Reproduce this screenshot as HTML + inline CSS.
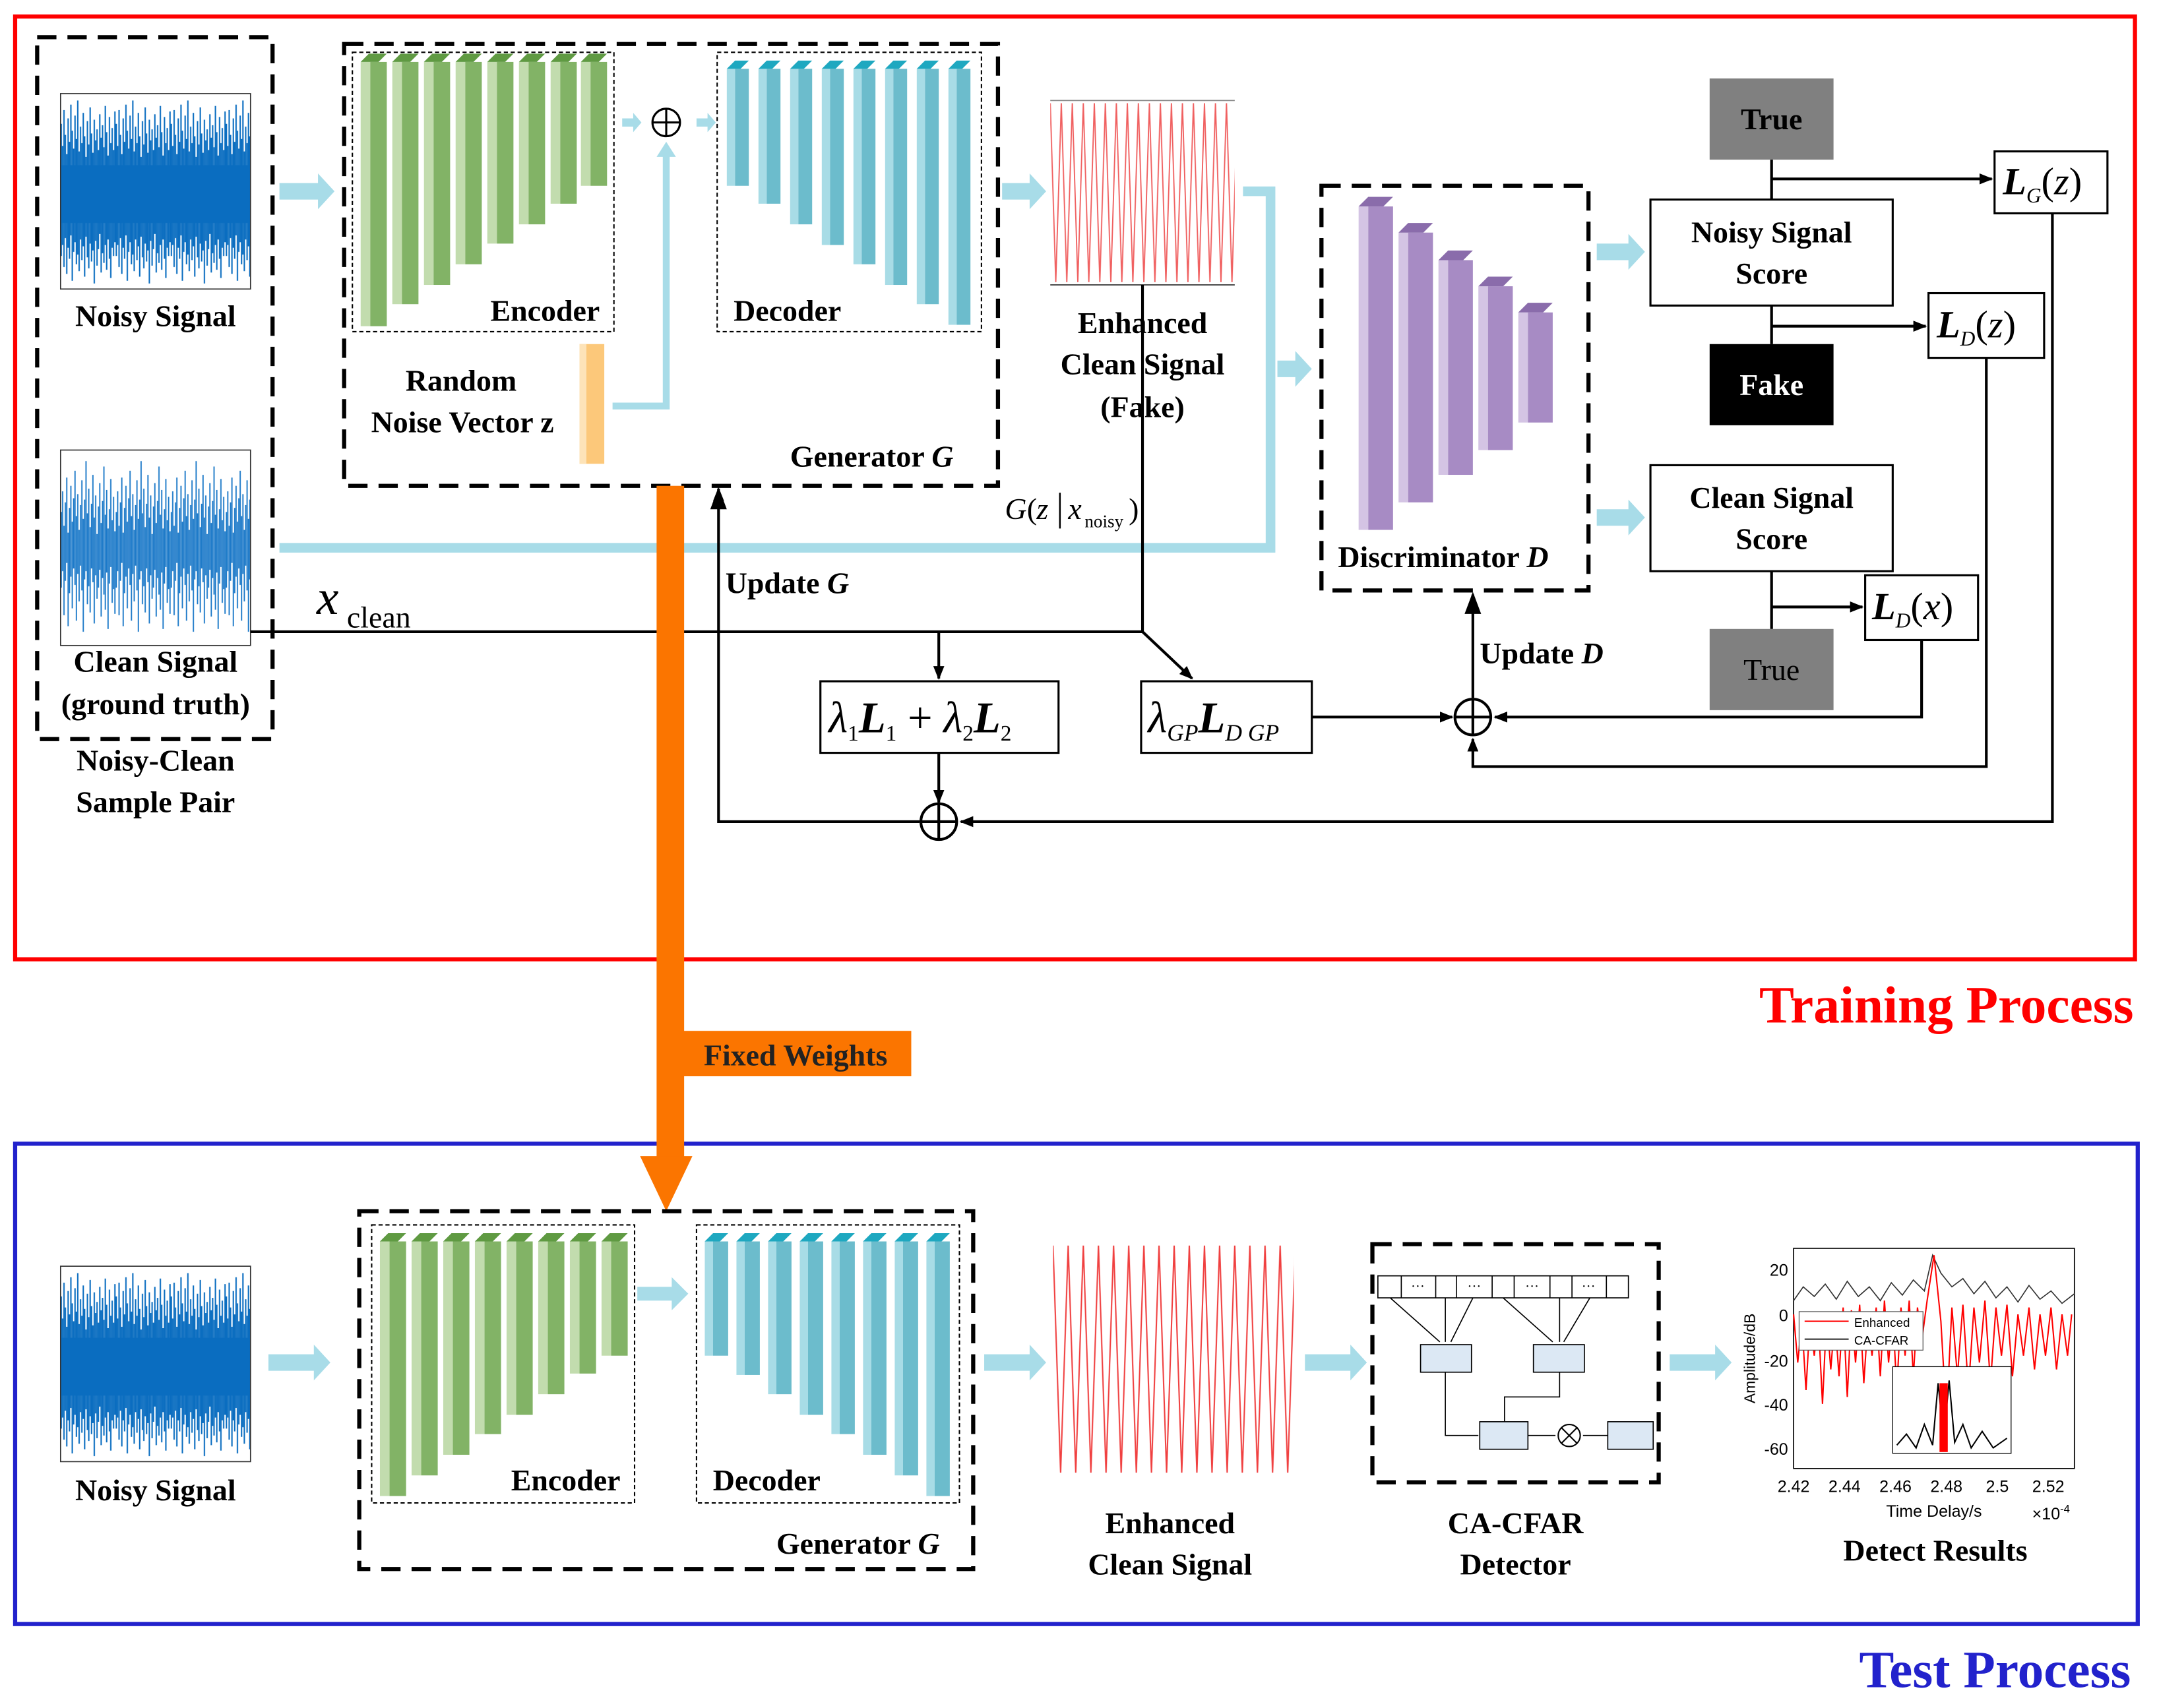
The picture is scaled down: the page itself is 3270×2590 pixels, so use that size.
<!DOCTYPE html>
<html><head><meta charset="utf-8"><style>
html,body{margin:0;padding:0;background:#fff;}
svg{display:block;}
text{font-family:"Liberation Serif",serif;}
.b{font-weight:bold;font-size:22px;}
.s{font-family:"Liberation Sans",sans-serif;}
</style></head><body>
<svg width="3270" height="2590" viewBox="0 0 1567 1241" preserveAspectRatio="none" xmlns="http://www.w3.org/2000/svg">
<defs>
<pattern id="noise" width="40" height="142" patternUnits="userSpaceOnUse" x="44" y="68">
<rect width="40" height="142" fill="#fff"/>
<g stroke="#0a6dc0" stroke-width="1">
<line x1="0.5" y1="22" x2="0.5" y2="118"/><line x1="1.5" y1="38" x2="1.5" y2="110"/><line x1="2.5" y1="12" x2="2.5" y2="126"/><line x1="3.5" y1="30" x2="3.5" y2="105"/>
<line x1="4.5" y1="44" x2="4.5" y2="131"/><line x1="5.5" y1="18" x2="5.5" y2="112"/><line x1="6.5" y1="35" x2="6.5" y2="120"/><line x1="7.5" y1="8" x2="7.5" y2="103"/>
<line x1="8.5" y1="27" x2="8.5" y2="136"/><line x1="9.5" y1="40" x2="9.5" y2="115"/><line x1="10.5" y1="16" x2="10.5" y2="108"/><line x1="11.5" y1="33" x2="11.5" y2="124"/>
<line x1="12.5" y1="5" x2="12.5" y2="117"/><line x1="13.5" y1="42" x2="13.5" y2="129"/><line x1="14.5" y1="24" x2="14.5" y2="106"/><line x1="15.5" y1="36" x2="15.5" y2="121"/>
<line x1="16.5" y1="14" x2="16.5" y2="111"/><line x1="17.5" y1="31" x2="17.5" y2="133"/><line x1="18.5" y1="46" x2="18.5" y2="104"/><line x1="19.5" y1="20" x2="19.5" y2="119"/>
<line x1="20.5" y1="37" x2="20.5" y2="127"/><line x1="21.5" y1="10" x2="21.5" y2="109"/><line x1="22.5" y1="29" x2="22.5" y2="122"/><line x1="23.5" y1="43" x2="23.5" y2="114"/>
<line x1="24.5" y1="19" x2="24.5" y2="138"/><line x1="25.5" y1="34" x2="25.5" y2="107"/><line x1="26.5" y1="26" x2="26.5" y2="125"/><line x1="27.5" y1="41" x2="27.5" y2="113"/>
<line x1="28.5" y1="15" x2="28.5" y2="102"/><line x1="29.5" y1="32" x2="29.5" y2="130"/><line x1="30.5" y1="23" x2="30.5" y2="116"/><line x1="31.5" y1="39" x2="31.5" y2="123"/>
<line x1="32.5" y1="9" x2="32.5" y2="110"/><line x1="33.5" y1="28" x2="33.5" y2="128"/><line x1="34.5" y1="45" x2="34.5" y2="106"/><line x1="35.5" y1="17" x2="35.5" y2="120"/>
<line x1="36.5" y1="36" x2="36.5" y2="134"/><line x1="37.5" y1="25" x2="37.5" y2="112"/><line x1="38.5" y1="41" x2="38.5" y2="118"/><line x1="39.5" y1="13" x2="39.5" y2="108"/>
</g>
<rect x="0" y="52" width="40" height="42" fill="#0a6dc0"/>
</pattern>
<pattern id="noiseT" href="#noise" x="44" y="920"/>
<pattern id="noise2" width="40" height="142" patternUnits="userSpaceOnUse" x="44" y="327">
<rect width="40" height="142" fill="#fff"/>
<g stroke="#1a78c8" stroke-width="0.9">
<line x1="0.5" y1="45" x2="0.5" y2="100"/><line x1="1.5" y1="30" x2="1.5" y2="88"/><line x1="2.5" y1="55" x2="2.5" y2="120"/><line x1="3.5" y1="38" x2="3.5" y2="95"/>
<line x1="4.5" y1="20" x2="4.5" y2="82"/><line x1="5.5" y1="60" x2="5.5" y2="128"/><line x1="6.5" y1="42" x2="6.5" y2="104"/><line x1="7.5" y1="26" x2="7.5" y2="92"/>
<line x1="8.5" y1="52" x2="8.5" y2="115"/><line x1="9.5" y1="35" x2="9.5" y2="86"/><line x1="10.5" y1="15" x2="10.5" y2="98"/><line x1="11.5" y1="48" x2="11.5" y2="124"/>
<line x1="12.5" y1="32" x2="12.5" y2="90"/><line x1="13.5" y1="58" x2="13.5" y2="110"/><line x1="14.5" y1="40" x2="14.5" y2="84"/><line x1="15.5" y1="22" x2="15.5" y2="102"/>
<line x1="16.5" y1="50" x2="16.5" y2="132"/><line x1="17.5" y1="36" x2="17.5" y2="94"/><line x1="18.5" y1="8" x2="18.5" y2="88"/><line x1="19.5" y1="46" x2="19.5" y2="112"/>
<line x1="20.5" y1="28" x2="20.5" y2="99"/><line x1="21.5" y1="56" x2="21.5" y2="118"/><line x1="22.5" y1="39" x2="22.5" y2="86"/><line x1="23.5" y1="18" x2="23.5" y2="96"/>
<line x1="24.5" y1="49" x2="24.5" y2="126"/><line x1="25.5" y1="33" x2="25.5" y2="91"/><line x1="26.5" y1="61" x2="26.5" y2="108"/><line x1="27.5" y1="41" x2="27.5" y2="100"/>
<line x1="28.5" y1="24" x2="28.5" y2="87"/><line x1="29.5" y1="53" x2="29.5" y2="121"/><line x1="30.5" y1="37" x2="30.5" y2="93"/><line x1="31.5" y1="12" x2="31.5" y2="105"/>
<line x1="32.5" y1="47" x2="32.5" y2="116"/><line x1="33.5" y1="29" x2="33.5" y2="89"/><line x1="34.5" y1="57" x2="34.5" y2="130"/><line x1="35.5" y1="43" x2="35.5" y2="97"/>
<line x1="36.5" y1="21" x2="36.5" y2="85"/><line x1="37.5" y1="51" x2="37.5" y2="111"/><line x1="38.5" y1="34" x2="38.5" y2="101"/><line x1="39.5" y1="59" x2="39.5" y2="119"/>
</g>
</pattern>
<pattern id="sine1" width="8" height="134" patternUnits="userSpaceOnUse" x="763" y="73">
<path d="M0,2 L4,132 L8,2" fill="none" stroke="#f06060" stroke-width="0.9"/>
</pattern>
<pattern id="sine2" width="11" height="175" patternUnits="userSpaceOnUse" x="765" y="900">
<path d="M0,5 L5.5,170 L11,5" fill="none" stroke="#f04040" stroke-width="1"/>
</pattern>
<marker id="ah" markerWidth="10" markerHeight="8" refX="9" refY="4" orient="auto" markerUnits="userSpaceOnUse"><path d="M0,0 L10,4 L0,8 z" fill="#000"/></marker>
</defs>

<rect width="1567" height="1241" fill="#fff"/>
<rect x="11" y="12" width="1540" height="685" fill="none" stroke="#f00" stroke-width="3"/>
<rect x="11" y="831" width="1542" height="349" fill="none" stroke="#22c" stroke-width="3"/>
<text x="1550" y="743" text-anchor="end" font-size="38" font-weight="bold" fill="#f00">Training Process</text>
<text x="1548" y="1226" text-anchor="end" font-size="38" font-weight="bold" fill="#22c">Test Process</text>

<rect x="27" y="27" width="171" height="510" fill="none" stroke="#000" stroke-width="3" stroke-dasharray="14,8"/>
<rect x="44" y="68" width="138" height="142" fill="url(#noise)" stroke="#333" stroke-width="0.8"/>
<rect x="44" y="327" width="138" height="142" fill="url(#noise2)" stroke="#333" stroke-width="0.8"/>
<text class="b" x="113" y="237" text-anchor="middle">Noisy Signal</text>
<text class="b" x="113" y="488" text-anchor="middle">Clean Signal</text>
<text class="b" x="113" y="519" text-anchor="middle">(ground truth)</text>
<text class="b" x="113" y="560" text-anchor="middle">Noisy-Clean</text>
<text class="b" x="113" y="590" text-anchor="middle">Sample Pair</text>

<g fill="#a8dce8">
<path d="M203,133 h28 v-7 l12,13 -12,13 v-7 h-28z"/>
<path d="M728,133 h20 v-7 l12,13 -12,13 v-7 h-20z"/>
<path d="M1160,177 h23 v-7 l12,13 -12,13 v-7 h-23z"/>
<path d="M1160,370 h23 v-7 l12,13 -12,13 v-7 h-23z"/>
<path d="M928,262 h13 v-7 l12,13 -12,13 v-7 h-13z"/>
<path d="M195,984 h33 v-7 l12,13 -12,13 v-7 h-33z"/>
<path d="M715,984 h33 v-7 l12,13 -12,13 v-7 h-33z"/>
<path d="M948,984 h33 v-7 l12,13 -12,13 v-7 h-33z"/>
<path d="M1213,984 h33 v-7 l12,13 -12,13 v-7 h-33z"/>
<path d="M463,935 h25 v-7 l12,12 -12,12 v-7 h-25z"/>
<path d="M452,86 h8 v-4 l6,7 -6,7 v-4 h-8z"/>
<path d="M506,86 h8 v-4 l6,7 -6,7 v-4 h-8z"/>
</g>
<polyline points="903,139 923,139 923,398 203,398" fill="none" stroke="#a8dce8" stroke-width="7"/>
<polyline points="445,295 484,295 484,112" fill="none" stroke="#a8dce8" stroke-width="5"/>
<path d="M477,114 l7,-11 7,11z" fill="#a8dce8"/>

<rect x="250" y="32" width="475" height="321" fill="none" stroke="#000" stroke-width="3" stroke-dasharray="14,8"/>
<rect x="256" y="38" width="190" height="203" fill="none" stroke="#000" stroke-width="1" stroke-dasharray="3,2"/>
<rect x="521" y="38" width="192" height="203" fill="none" stroke="#000" stroke-width="1" stroke-dasharray="3,2"/>
<g>
<rect x="262" y="45" width="7" height="192" fill="#c2dcae"/><rect x="269" y="45" width="12" height="192" fill="#82b366"/><path d="M262,45 l6,-6 h13 l-6,6z" fill="#5f9a42"/>
<rect x="285" y="45" width="7" height="176" fill="#c2dcae"/><rect x="292" y="45" width="12" height="176" fill="#82b366"/><path d="M285,45 l6,-6 h13 l-6,6z" fill="#5f9a42"/>
<rect x="308" y="45" width="7" height="162" fill="#c2dcae"/><rect x="315" y="45" width="12" height="162" fill="#82b366"/><path d="M308,45 l6,-6 h13 l-6,6z" fill="#5f9a42"/>
<rect x="331" y="45" width="7" height="147" fill="#c2dcae"/><rect x="338" y="45" width="12" height="147" fill="#82b366"/><path d="M331,45 l6,-6 h13 l-6,6z" fill="#5f9a42"/>
<rect x="354" y="45" width="7" height="132" fill="#c2dcae"/><rect x="361" y="45" width="12" height="132" fill="#82b366"/><path d="M354,45 l6,-6 h13 l-6,6z" fill="#5f9a42"/>
<rect x="377" y="45" width="7" height="118" fill="#c2dcae"/><rect x="384" y="45" width="12" height="118" fill="#82b366"/><path d="M377,45 l6,-6 h13 l-6,6z" fill="#5f9a42"/>
<rect x="400" y="45" width="7" height="103" fill="#c2dcae"/><rect x="407" y="45" width="12" height="103" fill="#82b366"/><path d="M400,45 l6,-6 h13 l-6,6z" fill="#5f9a42"/>
<rect x="422" y="45" width="7" height="90" fill="#c2dcae"/><rect x="429" y="45" width="12" height="90" fill="#82b366"/><path d="M422,45 l6,-6 h13 l-6,6z" fill="#5f9a42"/>
</g>
<g>
<rect x="528" y="50" width="6" height="85" fill="#a8dce6"/><rect x="534" y="50" width="10" height="85" fill="#6cbccc"/><path d="M528,50 l6,-6 h10 l-6,6z" fill="#1ea8c0"/>
<rect x="551" y="50" width="6" height="98" fill="#a8dce6"/><rect x="557" y="50" width="10" height="98" fill="#6cbccc"/><path d="M551,50 l6,-6 h10 l-6,6z" fill="#1ea8c0"/>
<rect x="574" y="50" width="6" height="113" fill="#a8dce6"/><rect x="580" y="50" width="10" height="113" fill="#6cbccc"/><path d="M574,50 l6,-6 h10 l-6,6z" fill="#1ea8c0"/>
<rect x="597" y="50" width="6" height="128" fill="#a8dce6"/><rect x="603" y="50" width="10" height="128" fill="#6cbccc"/><path d="M597,50 l6,-6 h10 l-6,6z" fill="#1ea8c0"/>
<rect x="620" y="50" width="6" height="142" fill="#a8dce6"/><rect x="626" y="50" width="10" height="142" fill="#6cbccc"/><path d="M620,50 l6,-6 h10 l-6,6z" fill="#1ea8c0"/>
<rect x="643" y="50" width="6" height="157" fill="#a8dce6"/><rect x="649" y="50" width="10" height="157" fill="#6cbccc"/><path d="M643,50 l6,-6 h10 l-6,6z" fill="#1ea8c0"/>
<rect x="666" y="50" width="6" height="171" fill="#a8dce6"/><rect x="672" y="50" width="10" height="171" fill="#6cbccc"/><path d="M666,50 l6,-6 h10 l-6,6z" fill="#1ea8c0"/>
<rect x="689" y="50" width="6" height="186" fill="#a8dce6"/><rect x="695" y="50" width="10" height="186" fill="#6cbccc"/><path d="M689,50 l6,-6 h10 l-6,6z" fill="#1ea8c0"/>
</g>
<circle cx="484" cy="89" r="10" fill="#fff" stroke="#000" stroke-width="1.5"/><path d="M474,89 h20 M484,79 v20" stroke="#000" stroke-width="1.5"/>
<rect x="421" y="250" width="18" height="87" fill="#fcc87a"/><rect x="421" y="250" width="5" height="87" fill="#fde3b8"/>
<text class="b" x="396" y="233" text-anchor="middle">Encoder</text>
<text class="b" x="572" y="233" text-anchor="middle">Decoder</text>
<text class="b" x="335" y="284" text-anchor="middle">Random</text>
<text class="b" x="336" y="314" text-anchor="middle">Noise Vector z</text>
<text class="b" x="574" y="339">Generator <tspan font-style="italic">G</tspan></text>

<rect x="763" y="73" width="134" height="134" fill="url(#sine1)"/>
<line x1="763" y1="73" x2="897" y2="73" stroke="#888" stroke-width="0.8"/><line x1="763" y1="207" x2="897" y2="207" stroke="#333" stroke-width="0.8"/>
<text class="b" x="830" y="242" text-anchor="middle">Enhanced</text>
<text class="b" x="830" y="272" text-anchor="middle">Clean Signal</text>
<text class="b" x="830" y="303" text-anchor="middle">(Fake)</text>

<rect x="960" y="135" width="194" height="294" fill="none" stroke="#000" stroke-width="3" stroke-dasharray="14,8"/>
<g>
<rect x="987" y="150" width="7" height="235" fill="#d4c4e4"/><rect x="994" y="150" width="18" height="235" fill="#a78bc4"/><path d="M987,150 l7,-7 h18 l-7,7z" fill="#8a6cab"/>
<rect x="1016" y="169" width="7" height="196" fill="#d4c4e4"/><rect x="1023" y="169" width="18" height="196" fill="#a78bc4"/><path d="M1016,169 l7,-7 h18 l-7,7z" fill="#8a6cab"/>
<rect x="1045" y="189" width="7" height="156" fill="#d4c4e4"/><rect x="1052" y="189" width="18" height="156" fill="#a78bc4"/><path d="M1045,189 l7,-7 h18 l-7,7z" fill="#8a6cab"/>
<rect x="1074" y="208" width="7" height="119" fill="#d4c4e4"/><rect x="1081" y="208" width="18" height="119" fill="#a78bc4"/><path d="M1074,208 l7,-7 h18 l-7,7z" fill="#8a6cab"/>
<rect x="1103" y="227" width="7" height="80" fill="#d4c4e4"/><rect x="1110" y="227" width="18" height="80" fill="#a78bc4"/><path d="M1103,227 l7,-7 h18 l-7,7z" fill="#8a6cab"/>
</g>
<text class="b" x="972" y="412">Discriminator <tspan font-style="italic">D</tspan></text>

<rect x="1242" y="57" width="90" height="59" fill="#808080"/><text class="b" x="1287" y="94" text-anchor="middle">True</text>
<rect x="1199" y="145" width="176" height="77" fill="#fff" stroke="#000" stroke-width="1.5"/>
<text class="b" x="1287" y="176" text-anchor="middle">Noisy Signal</text><text class="b" x="1287" y="206" text-anchor="middle">Score</text>
<rect x="1242" y="250" width="90" height="59" fill="#000"/><text class="b" x="1287" y="287" text-anchor="middle" fill="#fff">Fake</text>
<rect x="1199" y="338" width="176" height="77" fill="#fff" stroke="#000" stroke-width="1.5"/>
<text class="b" x="1287" y="369" text-anchor="middle">Clean Signal</text><text class="b" x="1287" y="399" text-anchor="middle">Score</text>
<rect x="1242" y="457" width="90" height="59" fill="#808080"/><text x="1287" y="494" text-anchor="middle" font-size="22">True</text>

<rect x="1449" y="110" width="82" height="45" fill="#fff" stroke="#000" stroke-width="1.5"/>
<text x="1455" y="141" font-size="28" font-style="italic" font-weight="bold">L<tspan font-size="15" dy="6" font-weight="normal">G</tspan><tspan dy="-6" font-weight="normal" font-style="normal">(</tspan><tspan font-weight="normal">z</tspan><tspan font-weight="normal" font-style="normal">)</tspan></text>
<rect x="1401" y="213" width="84" height="47" fill="#fff" stroke="#000" stroke-width="1.5"/>
<text x="1407" y="245" font-size="28" font-style="italic" font-weight="bold">L<tspan font-size="15" dy="6" font-weight="normal">D</tspan><tspan dy="-6" font-weight="normal" font-style="normal">(</tspan><tspan font-weight="normal">z</tspan><tspan font-weight="normal" font-style="normal">)</tspan></text>
<rect x="1355" y="418" width="82" height="47" fill="#fff" stroke="#000" stroke-width="1.5"/>
<text x="1360" y="450" font-size="28" font-style="italic" font-weight="bold">L<tspan font-size="15" dy="6" font-weight="normal">D</tspan><tspan dy="-6" font-weight="normal" font-style="normal">(</tspan><tspan font-weight="normal">x</tspan><tspan font-weight="normal" font-style="normal">)</tspan></text>

<g stroke="#000" stroke-width="2" fill="none">
<line x1="1287" y1="116" x2="1287" y2="145"/><line x1="1287" y1="130" x2="1447" y2="130" marker-end="url(#ah)"/>
<line x1="1287" y1="222" x2="1287" y2="250"/><line x1="1287" y1="237" x2="1399" y2="237" marker-end="url(#ah)"/>
<line x1="1287" y1="415" x2="1287" y2="457"/><line x1="1287" y1="441" x2="1353" y2="441" marker-end="url(#ah)"/>
<line x1="182" y1="459" x2="830" y2="459"/>
<line x1="830" y1="207" x2="830" y2="459"/>
<line x1="830" y1="459" x2="866" y2="493" marker-end="url(#ah)"/>
<line x1="682" y1="459" x2="682" y2="493" marker-end="url(#ah)"/>
<line x1="682" y1="547" x2="682" y2="583" marker-end="url(#ah)"/>
<line x1="953" y1="521" x2="1055" y2="521" marker-end="url(#ah)"/>
<polyline points="1396,465 1396,521 1086,521" marker-end="url(#ah)"/>
<polyline points="1443,260 1443,557 1070,557 1070,537" marker-end="url(#ah)"/>
<polyline points="1491,155 1491,597 698,597" marker-end="url(#ah)"/>
<polyline points="668,597 522,597 522,355" marker-end="url(#ah)"/>
<line x1="1070" y1="507" x2="1070" y2="432" marker-end="url(#ah)"/>
</g>
<path d="M1064,446 l6,-16 6,16z" fill="#000"/>
<path d="M516,370 l6,-16 6,16z" fill="#000"/>
<circle cx="1070" cy="521" r="13" fill="#fff" stroke="#000" stroke-width="2"/><path d="M1057,521 h26 M1070,508 v26" stroke="#000" stroke-width="2"/>
<circle cx="682" cy="597" r="13" fill="#fff" stroke="#000" stroke-width="2"/><path d="M669,597 h26 M682,584 v26" stroke="#000" stroke-width="2"/>

<text x="230" y="446" font-size="36" font-style="italic">x</text><text x="252" y="456" font-size="22">clean</text>
<text x="730" y="377" font-size="22" font-style="italic">G</text><text x="746" y="377" font-size="22">(</text><text x="753" y="377" font-size="22" font-style="italic">z</text>
<line x1="770" y1="358" x2="770" y2="384" stroke="#000" stroke-width="1.2"/>
<text x="776" y="377" font-size="22" font-style="italic">x</text><text x="788" y="383" font-size="13">noisy</text><text x="820" y="377" font-size="22">)</text>
<text class="b" x="527" y="431">Update <tspan font-style="italic">G</tspan></text>
<text class="b" x="1075" y="482">Update <tspan font-style="italic">D</tspan></text>

<rect x="596" y="495" width="173" height="52" fill="#fff" stroke="#000" stroke-width="1.5"/>
<text x="602" y="532" font-size="32" font-style="italic">λ<tspan font-size="16" dy="6" font-style="normal">1</tspan><tspan dy="-6" font-weight="bold">L</tspan><tspan font-size="16" dy="6" font-style="normal">1</tspan><tspan dy="-6" font-style="normal"> + </tspan>λ<tspan font-size="16" dy="6" font-style="normal">2</tspan><tspan dy="-6" font-weight="bold">L</tspan><tspan font-size="16" dy="6" font-style="normal">2</tspan></text>
<rect x="829" y="495" width="124" height="52" fill="#fff" stroke="#000" stroke-width="1.5"/>
<text x="834" y="532" font-size="32" font-style="italic">λ<tspan font-size="17" dy="6">GP</tspan><tspan dy="-6" font-weight="bold">L</tspan><tspan font-size="17" dy="6">D GP</tspan></text>

<rect x="477" y="353" width="20" height="488" fill="#fb7500"/>
<path d="M465,840 L503,840 L484,880z" fill="#fb7500"/>
<rect x="495" y="749" width="167" height="33" fill="#fb7500"/>
<text class="b" x="578" y="774" text-anchor="middle" fill="#222">Fixed Weights</text>

<rect x="44" y="920" width="138" height="142" fill="url(#noiseT)" stroke="#333" stroke-width="0.8"/>
<text class="b" x="113" y="1090" text-anchor="middle">Noisy Signal</text>
<rect x="261" y="880" width="446" height="260" fill="none" stroke="#000" stroke-width="3" stroke-dasharray="14,8"/>
<rect x="270" y="890" width="191" height="202" fill="none" stroke="#000" stroke-width="1" stroke-dasharray="3,2"/>
<rect x="506" y="890" width="191" height="202" fill="none" stroke="#000" stroke-width="1" stroke-dasharray="3,2"/>
<g>
<rect x="276" y="902" width="7" height="185" fill="#c2dcae"/><rect x="283" y="902" width="12" height="185" fill="#82b366"/><path d="M276,902 l6,-6 h13 l-6,6z" fill="#5f9a42"/>
<rect x="299" y="902" width="7" height="170" fill="#c2dcae"/><rect x="306" y="902" width="12" height="170" fill="#82b366"/><path d="M299,902 l6,-6 h13 l-6,6z" fill="#5f9a42"/>
<rect x="322" y="902" width="7" height="155" fill="#c2dcae"/><rect x="329" y="902" width="12" height="155" fill="#82b366"/><path d="M322,902 l6,-6 h13 l-6,6z" fill="#5f9a42"/>
<rect x="345" y="902" width="7" height="140" fill="#c2dcae"/><rect x="352" y="902" width="12" height="140" fill="#82b366"/><path d="M345,902 l6,-6 h13 l-6,6z" fill="#5f9a42"/>
<rect x="368" y="902" width="7" height="126" fill="#c2dcae"/><rect x="375" y="902" width="12" height="126" fill="#82b366"/><path d="M368,902 l6,-6 h13 l-6,6z" fill="#5f9a42"/>
<rect x="391" y="902" width="7" height="111" fill="#c2dcae"/><rect x="398" y="902" width="12" height="111" fill="#82b366"/><path d="M391,902 l6,-6 h13 l-6,6z" fill="#5f9a42"/>
<rect x="414" y="902" width="7" height="96" fill="#c2dcae"/><rect x="421" y="902" width="12" height="96" fill="#82b366"/><path d="M414,902 l6,-6 h13 l-6,6z" fill="#5f9a42"/>
<rect x="437" y="902" width="7" height="83" fill="#c2dcae"/><rect x="444" y="902" width="12" height="83" fill="#82b366"/><path d="M437,902 l6,-6 h13 l-6,6z" fill="#5f9a42"/>
</g>
<g>
<rect x="512" y="902" width="6" height="83" fill="#a8dce6"/><rect x="518" y="902" width="11" height="83" fill="#6cbccc"/><path d="M512,902 l6,-6 h11 l-6,6z" fill="#1ea8c0"/>
<rect x="535" y="902" width="6" height="97" fill="#a8dce6"/><rect x="541" y="902" width="11" height="97" fill="#6cbccc"/><path d="M535,902 l6,-6 h11 l-6,6z" fill="#1ea8c0"/>
<rect x="558" y="902" width="6" height="111" fill="#a8dce6"/><rect x="564" y="902" width="11" height="111" fill="#6cbccc"/><path d="M558,902 l6,-6 h11 l-6,6z" fill="#1ea8c0"/>
<rect x="581" y="902" width="6" height="126" fill="#a8dce6"/><rect x="587" y="902" width="11" height="126" fill="#6cbccc"/><path d="M581,902 l6,-6 h11 l-6,6z" fill="#1ea8c0"/>
<rect x="604" y="902" width="6" height="140" fill="#a8dce6"/><rect x="610" y="902" width="11" height="140" fill="#6cbccc"/><path d="M604,902 l6,-6 h11 l-6,6z" fill="#1ea8c0"/>
<rect x="627" y="902" width="6" height="155" fill="#a8dce6"/><rect x="633" y="902" width="11" height="155" fill="#6cbccc"/><path d="M627,902 l6,-6 h11 l-6,6z" fill="#1ea8c0"/>
<rect x="650" y="902" width="6" height="170" fill="#a8dce6"/><rect x="656" y="902" width="11" height="170" fill="#6cbccc"/><path d="M650,902 l6,-6 h11 l-6,6z" fill="#1ea8c0"/>
<rect x="673" y="902" width="6" height="185" fill="#a8dce6"/><rect x="679" y="902" width="11" height="185" fill="#6cbccc"/><path d="M673,902 l6,-6 h11 l-6,6z" fill="#1ea8c0"/>
</g>
<text class="b" x="411" y="1083" text-anchor="middle">Encoder</text>
<text class="b" x="557" y="1083" text-anchor="middle">Decoder</text>
<text class="b" x="564" y="1129">Generator <tspan font-style="italic">G</tspan></text>

<rect x="765" y="900" width="175" height="175" fill="url(#sine2)"/>
<text class="b" x="850" y="1114" text-anchor="middle">Enhanced</text>
<text class="b" x="850" y="1144" text-anchor="middle">Clean Signal</text>

<rect x="997" y="904" width="208" height="173" fill="none" stroke="#000" stroke-width="3" stroke-dasharray="14,8"/>
<rect x="1001" y="927" width="182" height="16" fill="#fff" stroke="#000" stroke-width="0.8"/>
<g stroke="#000" stroke-width="0.8">
<line x1="1018" y1="927" x2="1018" y2="943"/><line x1="1043" y1="927" x2="1043" y2="943"/><line x1="1058" y1="927" x2="1058" y2="943"/><line x1="1084" y1="927" x2="1084" y2="943"/><line x1="1100" y1="927" x2="1100" y2="943"/><line x1="1126" y1="927" x2="1126" y2="943"/><line x1="1142" y1="927" x2="1142" y2="943"/><line x1="1167" y1="927" x2="1167" y2="943"/>
<line x1="1010" y1="943" x2="1046" y2="975"/><line x1="1070" y1="943" x2="1054" y2="975"/><line x1="1050" y1="943" x2="1050" y2="975"/>
<line x1="1092" y1="943" x2="1128" y2="975"/><line x1="1155" y1="943" x2="1136" y2="975"/><line x1="1133" y1="943" x2="1133" y2="975"/>
<polyline points="1050,997 1050,1043 1074,1043" fill="none"/><polyline points="1133,997 1133,1015 1093,1015 1093,1033" fill="none"/>
<line x1="1110" y1="1043" x2="1130" y2="1043"/><line x1="1150" y1="1043" x2="1168" y2="1043"/>
</g>
<g font-size="10" text-anchor="middle"><text x="1030" y="938">···</text><text x="1071" y="938">···</text><text x="1113" y="938">···</text><text x="1154" y="938">···</text></g>
<rect x="1032" y="977" width="37" height="20" fill="#dce8f4" stroke="#000" stroke-width="0.8"/>
<rect x="1114" y="977" width="37" height="20" fill="#dce8f4" stroke="#000" stroke-width="0.8"/>
<rect x="1075" y="1033" width="35" height="20" fill="#dce8f4" stroke="#000" stroke-width="0.8"/>
<rect x="1168" y="1033" width="33" height="20" fill="#dce8f4" stroke="#000" stroke-width="0.8"/>
<circle cx="1140" cy="1043" r="8" fill="#fff" stroke="#000"/><path d="M1134,1037 l12,12 M1146,1037 l-12,12" stroke="#000"/>
<text class="b" x="1101" y="1114" text-anchor="middle">CA-CFAR</text>
<text class="b" x="1101" y="1144" text-anchor="middle">Detector</text>

<rect x="1303" y="907" width="204" height="160" fill="#fff" stroke="#000" stroke-width="0.8"/>
<polyline points="1303,945 1310,935 1318,942 1326,933 1334,944 1342,931 1350,942 1358,935 1366,945 1374,932 1382,941 1390,930 1398,938 1404,912 1410,925 1418,935 1426,929 1434,940 1442,931 1450,943 1458,935 1466,946 1474,934 1482,944 1490,938 1498,947 1507,940" fill="none" stroke="#333" stroke-width="0.8"/>
<g stroke="#f00" stroke-width="1">
<polyline points="1303,955 1306,990 1309,960 1312,1010 1315,958 1318,985 1321,960 1324,1020 1327,955 1330,995 1333,958 1336,1000 1339,950 1342,1015 1345,952 1348,990 1351,948 1354,1005 1357,960 1360,985 1363,950 1366,1000 1369,945 1372,990 1375,955 1378,1010 1381,950 1384,985 1387,945 1390,1000 1393,950 1396,975 1400,945 1405,912 1410,960 1414,1030 1418,950 1422,1000 1426,948 1430,1010 1434,950 1438,990 1442,945 1446,1005 1450,950 1454,985 1458,948 1462,1000 1466,955 1470,985 1474,950 1478,995 1482,955 1486,985 1490,950 1494,995 1498,955 1502,985 1505,955" fill="none"/>
</g>
<rect x="1307" y="953" width="90" height="28" fill="#fff" stroke="#555" stroke-width="0.6"/>
<line x1="1311" y1="960" x2="1343" y2="960" stroke="#f00"/><text class="s" x="1347" y="964" font-size="9">Enhanced</text>
<line x1="1311" y1="973" x2="1343" y2="973" stroke="#333"/><text class="s" x="1347" y="977" font-size="9">CA-CFAR</text>
<rect x="1375" y="993" width="86" height="63" fill="#fff" stroke="#000" stroke-width="0.6"/>
<polyline points="1378,1050 1385,1042 1392,1052 1398,1035 1404,1050 1408,1005 1412,1045 1416,1003 1420,1048 1426,1035 1432,1052 1440,1040 1448,1052 1458,1045" fill="none" stroke="#000" stroke-width="1"/>
<rect x="1409" y="1005" width="6" height="50" fill="#f00"/>
<g font-size="12" text-anchor="end">
<text class="s" x="1299" y="927">20</text><text class="s" x="1299" y="960">0</text><text class="s" x="1299" y="993">-20</text><text class="s" x="1299" y="1025">-40</text><text class="s" x="1299" y="1057">-60</text>
</g>
<g font-size="12" text-anchor="middle">
<text class="s" x="1303" y="1084">2.42</text><text class="s" x="1340" y="1084">2.44</text><text class="s" x="1377" y="1084">2.46</text><text class="s" x="1414" y="1084">2.48</text><text class="s" x="1451" y="1084">2.5</text><text class="s" x="1488" y="1084">2.52</text>
<text class="s" x="1405" y="1102">Time Delay/s</text><text class="s" x="1490" y="1104">×10<tspan font-size="8" dy="-5">-4</tspan></text>
</g>
<text class="s" x="1275" y="987" font-size="11" text-anchor="middle" transform="rotate(-90 1275 987)">Amplitude/dB</text>
<text class="b" x="1406" y="1134" text-anchor="middle">Detect Results</text>
</svg>
</body></html>
